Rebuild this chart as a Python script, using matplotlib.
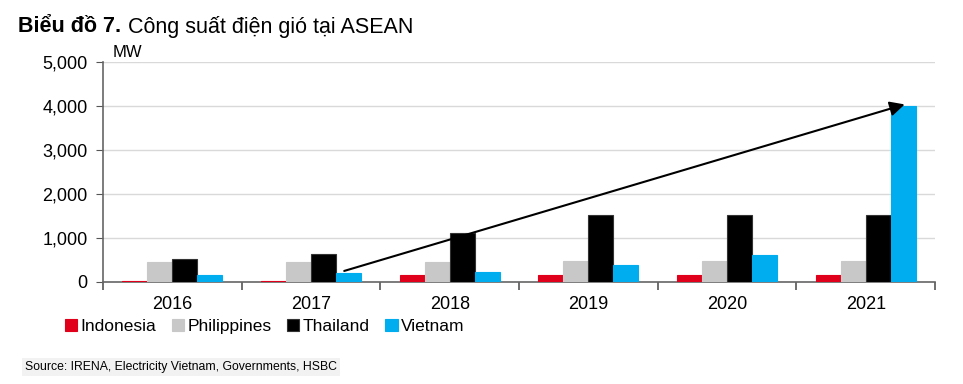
import matplotlib.pyplot as plt
import numpy as np

plt.rcParams['font.family'] = ['Liberation Sans', 'DejaVu Sans']

# Data (MW)
years = ["2016", "2017", "2018", "2019", "2020", "2021"]
countries = ["Indonesia", "Philippines", "Thailand", "Vietnam"]
indonesia = [30, 25, 160, 160, 160, 160]
philippines = [450, 450, 450, 465, 465, 470]
thailand = [520, 630, 1110, 1510, 1510, 1530]
vietnam = [160, 200, 230, 380, 600, 4000]
colors = ["#E0001B", "#C8C8C8", "#000000", "#00AEEF"]
edges = ["#E0001B", "#C8C8C8", "#333333", "#00AEEF"]

series = [indonesia, philippines, thailand, vietnam]

fig = plt.figure(figsize=(9.63, 3.84), dpi=100)
ax = fig.add_axes([0.107, 0.266, 0.864, 0.573])

x = np.arange(len(years))
w = 0.18
handles = []
for i, (vals, name) in enumerate(zip(series, countries)):
    b = ax.bar(x + (i - 1.5) * w, vals, width=w, color=colors[i],
               edgecolor=edges[i], linewidth=0.8, label=name, zorder=3)
    handles.append(b)

# growth arrow from 2017 Vietnam to 2021 Vietnam
ax.annotate("", xy=(x[5] + 1.5 * w + 0.03, vietnam[5] + 50),
            xytext=(x[1] + 1.5 * w - 0.05, vietnam[1] + 30),
            arrowprops=dict(arrowstyle="-|>", color="black", lw=1.5,
                            mutation_scale=22), zorder=5)

ax.set_xlim(-0.5, len(years) - 0.5)
ax.set_ylim(0, 5000)
ax.set_yticks(range(0, 5001, 1000))
ax.set_yticklabels([f"{v:,}" for v in range(0, 5001, 1000)])
ax.yaxis.grid(True, color="#D9D9D9", linewidth=1.0, zorder=0)

ax.set_xticks(x)
ax.set_xticklabels(years)
ax.set_xticks(np.arange(-0.5, len(years)), minor=True)
ax.tick_params(axis="x", which="major", length=0, pad=10, labelsize=13)
ax.tick_params(axis="x", which="minor", length=6, direction="out",
               color="#555555", width=1.2)
ax.tick_params(axis="y", length=5, color="#555555", labelsize=13, pad=6)

for s in ["top", "right"]:
    ax.spines[s].set_visible(False)
ax.spines["left"].set_color("#666666")
ax.spines["bottom"].set_color("#666666")
ax.spines["left"].set_linewidth(1.2)
ax.spines["bottom"].set_linewidth(1.2)

ax.text(0.012, 1.01, "MW", transform=ax.transAxes, fontsize=12,
        ha="left", va="bottom")

fig.legend(handles=handles, labels=countries, loc="center left",
           bbox_to_anchor=(0.060, 0.150), ncol=4, frameon=False,
           fontsize=12.5, handlelength=0.7, handleheight=0.7,
           handletextpad=0.2, columnspacing=0.9, borderaxespad=0)

fig.text(0.019, 0.93, "Biểu đồ 7.", fontsize=15.5, fontweight="bold",
         ha="left", va="center")
fig.text(0.133, 0.93, "Công suất điện gió tại ASEAN", fontsize=15.5,
         ha="left", va="center")

fig.text(0.026, 0.045, "Source: IRENA, Electricity Vietnam, Governments, HSBC",
         fontsize=8.8, ha="left", va="center",
         bbox=dict(facecolor="#F2F2F2", edgecolor="none", pad=2))

fig.savefig("out.png", dpi=100)
